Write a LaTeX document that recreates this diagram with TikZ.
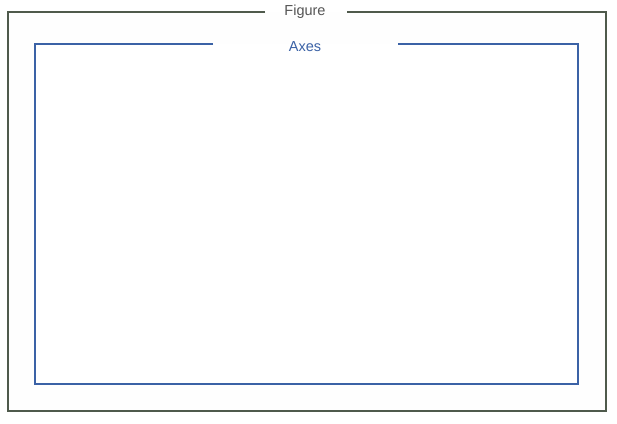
\documentclass[tikz,border=0pt]{standalone}
\usepackage{fontspec}
\setmainfont{Liberation Sans}
\definecolor{figline}{HTML}{4F5A4C}
\definecolor{axline}{HTML}{3B62A6}
\definecolor{figtext}{HTML}{555555}
\tikzset{
  figframe/.style={draw=figline, line width=1.8pt},
  axframe/.style={draw=axline, line width=1.8pt},
  lbl/.style={inner sep=0pt, font=\fontsize{14.5}{16}\selectfont}
}
\begin{document}
\begin{tikzpicture}[x=1pt,y=-1pt]
\useasboundingbox[fill=white] (0,0) rectangle (617,423);
\fill[white!99!gray] (8,12) rectangle (606,411);
% Figure frame
\coordinate (fA) at (265,12);
\coordinate (fB) at (347,12);
\node[lbl, text=figtext] (figlbl) at (305,12) {Figure};
\draw[figframe] (fA) -- (8,12) -- (8,411) -- (606,411) -- (606,12) -- (fB);
% Axes frame
\fill[white] (35,44) rectangle (578,384);
\coordinate (aA) at (213,44);
\coordinate (aB) at (398,44);
\node[lbl, text=axline] (axlbl) at (305,47) {Axes};
\draw[axframe] (aA) -- (35,44) -- (35,384) -- (578,384) -- (578,44) -- (aB);
\end{tikzpicture}
\end{document}
